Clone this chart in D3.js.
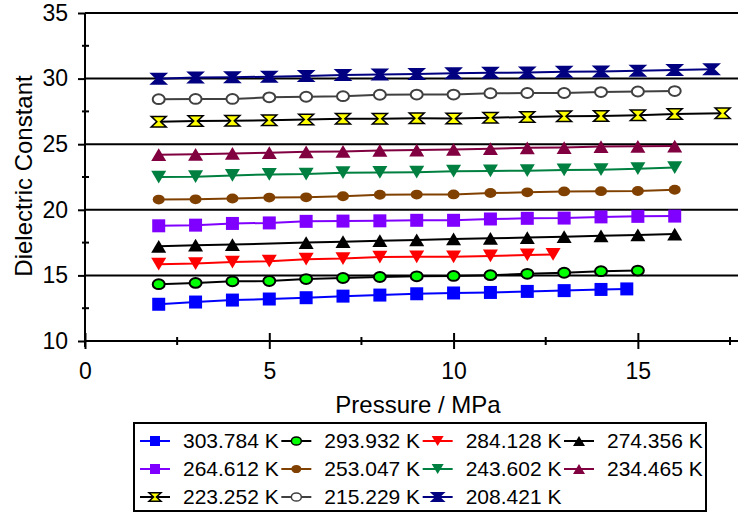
<!DOCTYPE html>
<html>
<head>
<meta charset="utf-8">
<script src="https://cdn.jsdelivr.net/npm/d3@7"></script>
<style>
  body { margin: 0; background: #fff; }
  svg { display: block; }
  text { font-family: "Liberation Sans", Arial, sans-serif; fill: #000; }
</style>
</head>
<body>
<svg id="chart" width="738" height="514"></svg>
<script>
// temperatures (legend labels)
var temps = ['303.784 K', '293.932 K', '284.128 K', '274.356 K',
  '264.612 K', '253.047 K', '243.602 K', '234.465 K',
  '223.252 K', '215.229 K', '208.421 K']

// pressures (MPa) for each series
var p2to16 = [2, 3, 4, 5, 6, 7, 8, 9, 10, 11, 12, 13, 14, 15, 16]
var pBlue = [2, 3, 4, 5, 6, 7, 8, 9, 10, 11, 12, 13, 14, 14.7]
var pGreen = [2, 3, 4, 5, 6, 7, 8, 9, 10, 11, 12, 13, 14, 15]
var pRed = [2, 3, 4, 5, 6, 7, 8, 9, 10, 11, 12, 12.7]
var pBlack = [2, 3, 4, 6, 7, 8, 9, 10, 11, 12, 13, 14, 15, 16]
var pYellow = [2, 3, 4, 5, 6, 7, 8, 9, 10, 11, 12, 13, 14, 15, 16, 17.3]
var pNavy = [2, 3, 4, 5, 6, 7, 8, 9, 10, 11, 12, 13, 14, 15, 16, 17]

// dielectric constant values
var e303 = [12.8, 12.97, 13.12, 13.2, 13.3, 13.42, 13.5, 13.6, 13.66, 13.7, 13.78, 13.84, 13.93, 13.97]
var e293 = [14.33, 14.43, 14.55, 14.57, 14.72, 14.8, 14.88, 14.93, 14.96, 15.02, 15.12, 15.2, 15.32, 15.37]
var e284 = [15.85, 15.9, 16.02, 16.08, 16.24, 16.28, 16.4, 16.42, 16.42, 16.48, 16.56, 16.6]
var e274 = [17.22, 17.3, 17.35, 17.5, 17.57, 17.65, 17.7, 17.78, 17.83, 17.88, 17.95, 18.02, 18.08, 18.15]
var e264 = [18.78, 18.83, 18.96, 19.0, 19.12, 19.14, 19.16, 19.2, 19.2, 19.3, 19.35, 19.37, 19.46, 19.5, 19.52]
var e253 = [20.78, 20.8, 20.86, 20.93, 20.95, 21.03, 21.15, 21.16, 21.17, 21.28, 21.33, 21.4, 21.42, 21.43, 21.53]
var e243 = [22.5, 22.52, 22.62, 22.7, 22.72, 22.83, 22.85, 22.87, 22.94, 22.96, 22.98, 23.04, 23.06, 23.13, 23.22]
var e234 = [24.2, 24.23, 24.3, 24.35, 24.42, 24.45, 24.52, 24.55, 24.6, 24.66, 24.72, 24.74, 24.82, 24.84, 24.86]
var e223 = [26.72, 26.76, 26.78, 26.83, 26.88, 26.94, 26.94, 26.97, 26.96, 27.02, 27.07, 27.13, 27.14, 27.2, 27.3, 27.35]
var e215 = [28.43, 28.45, 28.45, 28.57, 28.62, 28.66, 28.77, 28.78, 28.78, 28.88, 28.9, 28.9, 28.97, 29.02, 29.05]
var e208 = [29.98, 30.08, 30.1, 30.15, 30.2, 30.28, 30.32, 30.35, 30.4, 30.44, 30.46, 30.52, 30.54, 30.6, 30.66, 30.72]

var xTicks = [0, 5, 10, 15]
var yTicks = [10, 15, 20, 25, 30, 35]

var seriesX = [pBlue, pGreen, pRed, pBlack, p2to16, p2to16, p2to16, p2to16, pYellow, p2to16, pNavy]
var seriesY = [e303, e293, e284, e274, e264, e253, e243, e234, e223, e215, e208]

// look of each series
var styles = [
  { shape: 'square', line: '#0000ff', fill: '#0000ff', stroke: 'none' },
  { shape: 'circle', line: '#000000', fill: '#00ff00', stroke: '#000000' },
  { shape: 'down', line: '#ff0000', fill: '#ff0000', stroke: 'none' },
  { shape: 'up', line: '#000000', fill: '#000000', stroke: 'none' },
  { shape: 'square', line: '#8000ff', fill: '#8000ff', stroke: 'none' },
  { shape: 'circle', line: '#804000', fill: '#804000', stroke: 'none' },
  { shape: 'down', line: '#008040', fill: '#008040', stroke: 'none' },
  { shape: 'up', line: '#800040', fill: '#800040', stroke: 'none' },
  { shape: 'hour', line: '#000000', fill: '#ffff00', stroke: '#000000' },
  { shape: 'circle', line: '#404040', fill: '#ffffff', stroke: '#404040' },
  { shape: 'hour', line: '#000080', fill: '#000080', stroke: '#000080' }
]

function markerPath(shape, s) {
  // s = half width
  var h = s * 0.85
  if (shape === 'square') return 'M' + (-s) + ',' + (-s) + 'h' + 2 * s + 'v' + 2 * s + 'h' + (-2 * s) + 'Z'
  if (shape === 'circle') return 'M' + (-s) + ',0a' + s + ',' + (s * 0.82) + ' 0 1,0 ' + 2 * s + ',0a' + s + ',' + (s * 0.82) + ' 0 1,0 ' + (-2 * s) + ',0Z'
  if (shape === 'up') return 'M0,' + (-h) + 'L' + s + ',' + h + 'L' + (-s) + ',' + h + 'Z'
  if (shape === 'down') return 'M0,' + h + 'L' + s + ',' + (-h) + 'L' + (-s) + ',' + (-h) + 'Z'
  var v = s * 0.7, w = s * 0.25
  return 'M' + (-s) + ',' + (-v) + 'L' + s + ',' + (-v) + 'L' + w + ',0L' + s + ',' + v +
    'L' + (-s) + ',' + v + 'L' + (-w) + ',0Z'
}

var svg = d3.select('#chart')

var x = d3.scaleLinear().domain([0, 17.5]).range([85, 730])
var y = d3.scaleLinear().domain([10, 35]).range([341, 13])

// horizontal grid lines
svg.append('g').selectAll('line').data(yTicks.slice(1)).enter().append('line')
  .attr('x1', 85).attr('x2', 738)
  .attr('y1', d => y(d)).attr('y2', d => y(d))
  .attr('stroke', '#000').attr('stroke-width', 2)

// x axis
var xAxis = d3.axisBottom(x).tickValues(xTicks).tickSize(8).tickPadding(14).tickFormat(d3.format('d'))
var xg = svg.append('g').attr('transform', 'translate(0,' + y(10) + ')').call(xAxis)
xg.select('.domain').remove()
xg.append('line').attr('x1', 85).attr('x2', 738).attr('stroke', '#000').attr('stroke-width', 2)
xg.selectAll('.tick line').attr('y1', -8).attr('stroke-width', 2)
xg.selectAll('.tick text').style('font-size', '23px').attr('fill', '#000')
xg.append('g').selectAll('line').data([2.5, 7.5, 12.5, 17.5]).enter().append('line')
  .attr('x1', d => x(d)).attr('x2', d => x(d)).attr('y1', -4).attr('y2', 4)
  .attr('stroke', '#000').attr('stroke-width', 2)

// y axis
var yAxis = d3.axisLeft(y).tickValues(yTicks).tickSize(7).tickPadding(10)
var yg = svg.append('g').attr('transform', 'translate(85,0)').call(yAxis)
yg.select('.domain').remove()
yg.append('line').attr('y1', y(35)).attr('y2', 347).attr('stroke', '#000').attr('stroke-width', 2)
yg.selectAll('.tick line').attr('stroke-width', 2)
yg.selectAll('.tick text').style('font-size', '23px').attr('fill', '#000')
yg.append('g').selectAll('line').data([12.5, 17.5, 22.5, 27.5, 32.5]).enter().append('line')
  .attr('y1', d => y(d)).attr('y2', d => y(d)).attr('x1', -3).attr('x2', 4)
  .attr('stroke', '#000').attr('stroke-width', 2)

// axis titles
svg.append('text').attr('x', 418).attr('y', 413).attr('text-anchor', 'middle')
  .style('font-size', '24px').text('Pressure / MPa')
svg.append('text').attr('transform', 'translate(32,176) rotate(-90)').attr('text-anchor', 'middle')
  .style('font-size', '24px').text('Dielectric Constant')

// series
var line = d3.line().x(d => x(d[0])).y(d => y(d[1]))
seriesY.forEach(function (vals, i) {
  var pts = vals.map((v, j) => [seriesX[i][j], v])
  var st = styles[i]
  var g = svg.append('g')
  g.append('path').datum(pts).attr('d', line)
    .attr('fill', 'none').attr('stroke', st.line).attr('stroke-width', 2)
  g.selectAll('path.m').data(pts).enter().append('path').attr('class', 'm')
    .attr('transform', d => 'translate(' + x(d[0]) + ',' + y(d[1]) + ')')
    .attr('d', markerPath(st.shape, st.shape === 'square' ? 6.5 : st.shape === 'circle' ? 6 : 7.5))
    .attr('fill', st.fill).attr('stroke', st.stroke).attr('stroke-width', st.shape === 'hour' ? 1.5 : 2)
})

// legend
var leg = svg.append('g')
leg.append('rect').attr('x', 134).attr('y', 423).attr('width', 572).attr('height', 88)
  .attr('fill', '#fff').attr('stroke', '#000').attr('stroke-width', 2)
var colX = d3.scalePoint().domain([0, 1, 2, 3]).range([155, 579])
var rowY = d3.scalePoint().domain([0, 1, 2]).range([441, 497])
temps.forEach(function (t, i) {
  var cx = colX(i % 4), cy = rowY(Math.floor(i / 4)), st = styles[i]
  leg.append('line').attr('x1', cx - 15).attr('x2', cx + 15).attr('y1', cy).attr('y2', cy)
    .attr('stroke', st.line).attr('stroke-width', 2)
  leg.append('path').attr('transform', 'translate(' + cx + ',' + cy + ')')
    .attr('d', markerPath(st.shape, st.shape === 'square' ? 5 : st.shape === 'circle' ? 5 : 6))
    .attr('fill', st.fill).attr('stroke', st.stroke).attr('stroke-width', 1.5)
  leg.append('text').attr('x', cx + 28).attr('y', cy + 7).style('font-size', '21px').text(t)
})
</script>
</body>
</html>
